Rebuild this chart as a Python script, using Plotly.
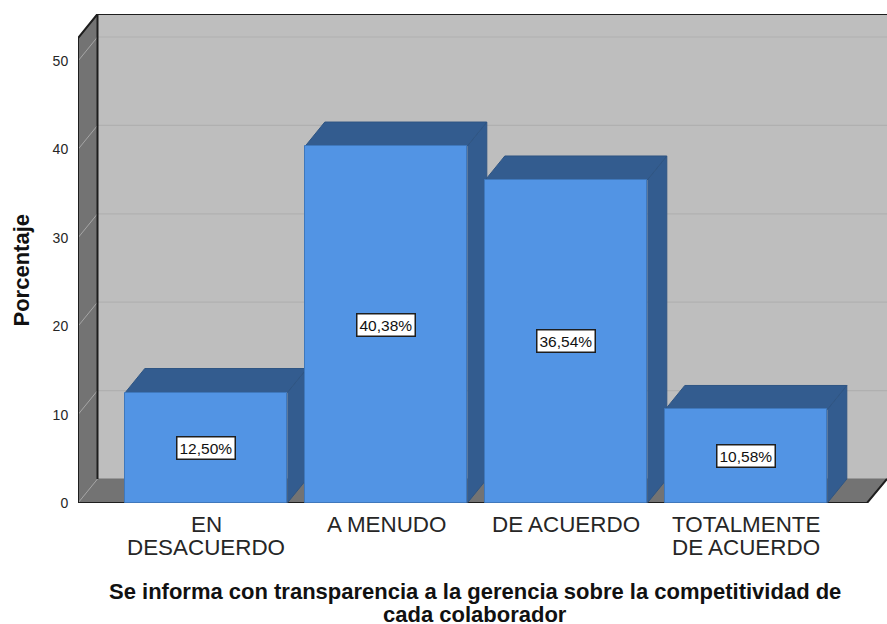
import plotly.graph_objects as go

category_lines = [["EN", "DESACUERDO"], ["A MENUDO"], ["DE ACUERDO"], ["TOTALMENTE", "DE ACUERDO"]]
percentages = [12.50, 40.38, 36.54, 10.58]
percent_labels = ["12,50%", "40,38%", "36,54%", "10,58%"]
y_ticks = [0, 10, 20, 30, 40, 50]
y_title = "Porcentaje"
x_title_lines = ["Se informa con transparencia a la gerencia sobre la competitividad de", "cada colaborador"]

W, H = 887, 624
L, T, R, B = 78, 14, 887, 503
PX_X = 180.0
PX_Y = 8.84
C0 = 206.3
x_range = [(L - C0) / PX_X, (R - C0) / PX_X]
y_range = [0, (B - T) / PX_Y]
DX = 19.5 / PX_X
DY = 24 / PX_Y
BW = 0.9
x_end = (867 - C0) / PX_X
x_l = x_range[0]

WALL, SIDE, BLUE, DARK, EDGE = "#BEBEBE", "#737373", "#5294E4", "#335C8F", "#2F5583"
INK = "#1E1E1E"
FONT = "Liberation Sans, Arial, sans-serif"

fig = go.Figure()

def poly(xs, ys, fill, line=None, lw=1):
    fig.add_trace(go.Scatter(x=xs, y=ys, mode="lines", fill="toself", fillcolor=fill,
                             line=dict(color=line or fill, width=lw), hoverinfo="skip",
                             showlegend=False, cliponaxis=False))

def seg(xs, ys, color, lw):
    fig.add_trace(go.Scatter(x=xs, y=ys, mode="lines", line=dict(color=color, width=lw),
                             hoverinfo="skip", showlegend=False, cliponaxis=False))

ym = y_range[1]
top_front = ym - DY
# walls and floor
poly([x_l + DX, x_range[1], x_range[1], x_l + DX], [DY, DY, ym, ym], WALL)
poly([x_l, x_l + DX, x_l + DX, x_l], [0, DY, ym, top_front], SIDE)
poly([x_l, x_l + DX, x_range[1], x_end], [0, DY, DY, 0], SIDE)
# gridlines
for t in y_ticks[1:]:
    seg([x_l, x_l + DX], [t, t + DY], "#A6A6A6", 1)
    seg([x_l + DX, x_range[1]], [t + DY, t + DY], "#B0B0B0", 1.2)
seg([x_l, x_l + DX], [0, DY], "#A6A6A6", 1)
# frame
seg([x_l, x_l], [0, top_front], INK, 2)
seg([x_l, x_l + DX, x_range[1]], [top_front, ym, ym], INK, 2)
seg([x_l + DX, x_l + DX], [DY, ym], INK, 2)
seg([x_l, x_end, x_range[1]], [0, 0, DY], INK, 2)

# bar depth faces
for i, v in enumerate(percentages):
    a, b = i - BW / 2, i + BW / 2
    poly([b, b + DX, b + DX, b], [0, DY, v + DY, v], DARK, EDGE)
    poly([a, a + DX, b + DX, b], [v, v + DY, v + DY, v], DARK, EDGE)

# bar fronts on an overlay pair of axes, so they cover the depth faces
fig.add_trace(go.Bar(x=list(range(len(percentages))), y=percentages, width=BW,
                     marker=dict(color=BLUE, line=dict(color="#3F78BC", width=1)),
                     xaxis="x2", yaxis="y2", hoverinfo="skip", showlegend=False))

annotations = []
for i, (v, lab) in enumerate(zip(percentages, percent_labels)):
    annotations.append(dict(x=i, y=v / 2, xref="x2", yref="y2", text=lab, showarrow=False,
                            font=dict(family=FONT, size=15.5, color="#111111"), bgcolor="white",
                            bordercolor=INK, borderwidth=1.5, borderpad=2))
for i, lines in enumerate(category_lines):
    for j, line in enumerate(lines):
        annotations.append(dict(x=i, y=0, xref="x", yref="y", yshift=-21 - 23 * j, text=line,
                                showarrow=False, yanchor="middle",
                                font=dict(family=FONT, size=22.4, color="#262626")))
for j, line in enumerate(x_title_lines):
    annotations.append(dict(x=(475 - L) / (R - L), y=0, xref="paper", yref="y", yshift=-88 - 23 * j,
                            text="<b>" + line + "</b>", showarrow=False, yanchor="middle",
                            font=dict(family=FONT, size=22, color="#111111")))
annotations.append(dict(x=0, y=0.5, xref="paper", yref="paper", xanchor="center", yanchor="middle",
                        xshift=-57, yshift=-12, text="<b>" + y_title + "</b>",
                        textangle=-90, showarrow=False,
                        font=dict(family=FONT, size=22, color="#111111")))

axis_off = dict(visible=False, fixedrange=True)
fig.update_layout(
    width=W, height=H, autosize=False,
    margin=dict(l=L, r=W - R, t=T, b=H - B, pad=0),
    paper_bgcolor="white", plot_bgcolor="white",
    xaxis=dict(range=x_range, showgrid=False, zeroline=False, showline=False, showticklabels=False),
    yaxis=dict(range=y_range, tickvals=y_ticks, showgrid=False, zeroline=False, showline=False,
               ticks="outside", ticklen=6, tickcolor="rgba(0,0,0,0)",
               tickfont=dict(family=FONT, size=14, color="#262626")),
    xaxis2=dict(range=x_range, overlaying="x", **axis_off),
    yaxis2=dict(range=y_range, overlaying="y", **axis_off),
    annotations=annotations,
    bargap=0,
)
fig.write_html("out.html", post_script="document.body.style.margin='0';document.documentElement.style.overflow='hidden';",
               config=dict(displayModeBar=False))
